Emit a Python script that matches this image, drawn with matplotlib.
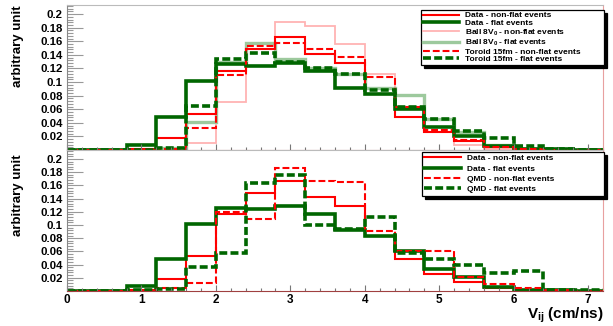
import numpy as np
import matplotlib
matplotlib.use("Agg")
import matplotlib.pyplot as plt
from matplotlib.ticker import MultipleLocator, FormatStrFormatter

plt.rcParams['font.family'] = ['Liberation Sans', 'DejaVu Sans']
plt.rcParams['font.weight'] = 'bold'
plt.rcParams['mathtext.fontset'] = 'custom'
plt.rcParams['mathtext.rm'] = 'Liberation Sans:bold'
plt.rcParams['mathtext.it'] = 'Liberation Sans:bold'
plt.rcParams['mathtext.bf'] = 'Liberation Sans:bold'

# V_ij histograms, 18 bins of 0.4 cm/ns from 0 to 7.2
bin_edges = np.linspace(0.0, 7.2, 19)

data_nonflat = [0, 0, 0.001, 0.018, 0.053, 0.117, 0.148, 0.167, 0.142, 0.128,
                0.083, 0.048, 0.026, 0.013, 0.005, 0.001, 0, 0]
data_flat = [0, 0, 0.008, 0.048, 0.102, 0.126, 0.124, 0.128, 0.116, 0.092,
             0.083, 0.060, 0.034, 0.021, 0.006, 0.002, 0.001, 0]
ball_nonflat = [0, 0, 0, 0.001, 0.010, 0.070, 0.156, 0.189, 0.182, 0.156,
                0.112, 0.061, 0.027, 0.008, 0.002, 0, 0, 0]
ball_flat = [0, 0, 0, 0.003, 0.041, 0.130, 0.157, 0.134, 0.120, 0.112,
             0.091, 0.081, 0.046, 0.027, 0.008, 0.002, 0, 0]
toroid_nonflat = [0, 0, 0, 0.002, 0.033, 0.111, 0.153, 0.158, 0.148, 0.137,
                  0.108, 0.063, 0.029, 0.015, 0.005, 0.001, 0, 0]
toroid_flat = [0, 0, 0, 0.003, 0.065, 0.134, 0.143, 0.130, 0.120, 0.112,
               0.089, 0.064, 0.046, 0.028, 0.017, 0.006, 0.001, 0]
qmd_nonflat = [0, 0, 0, 0.004, 0.012, 0.120, 0.109, 0.186, 0.167, 0.165,
               0.091, 0.061, 0.061, 0.021, 0.011, 0.005, 0.001, 0]
qmd_flat = [0, 0, 0.001, 0.003, 0.036, 0.057, 0.164, 0.176, 0.100, 0.094,
            0.112, 0.057, 0.048, 0.039, 0.027, 0.030, 0.001, 0.001]

RED = '#ff0000'
GREEN = '#006600'
PINK = '#ffb3b3'
LIGHTGREEN = '#9dc99d'
thin_dash = (0, (3.3, 1.4))
thick_dash = (0, (2.2, 0.9))


def style_axes(ax, show_xlabels):
  ax.set_xlim(0, 7.2)
  ax.set_ylim(0, 0.2135)
  ax.xaxis.set_major_locator(MultipleLocator(1))
  ax.xaxis.set_minor_locator(MultipleLocator(0.2))
  ax.yaxis.set_minor_locator(MultipleLocator(0.004))
  ax.yaxis.set_major_formatter(FormatStrFormatter('%g'))
  ax.set_yticks([0.02 * i for i in range(1, 11)])
  ax.tick_params(axis='y', which='major', direction='in', length=11.5,
                 width=0.8, color='#999999', labelsize=8.2, pad=3)
  ax.tick_params(axis='y', which='minor', direction='in', length=4.5,
                 width=0.8, color='#999999')
  ax.tick_params(axis='x', which='major', direction='in', length=4,
                 width=0.8, color='#777777', labelsize=8.5, pad=2,
                 labelbottom=show_xlabels)
  ax.tick_params(axis='x', which='minor', direction='in', length=2,
                 width=0.8, color='#777777')
  for lab in ax.get_xticklabels() + ax.get_yticklabels():
    lab.set_fontweight('bold')
  ax.spines['left'].set_color('#888888')
  ax.spines['bottom'].set_color('#a04040')
  ax.spines['right'].set_color('#e8a0a0')
  ax.spines['top'].set_color('#bbbbbb')
  for s in ax.spines.values():
    s.set_linewidth(0.8)
  ax.set_ylabel('arbitrary unit', fontsize=9.5, fontweight='bold', loc='top')


def make_legend(ax, handles, labels, anchor, spacing, pad):
  leg = ax.legend(handles, labels, loc='upper left', bbox_to_anchor=anchor,
                  mode='expand', borderaxespad=0, fontsize=6.0, handlelength=4.4,
                  handletextpad=0.7, labelspacing=spacing, borderpad=pad,
                  fancybox=False, edgecolor='black', framealpha=1,
                  shadow={'color': 'black', 'alpha': 1})
  leg.get_frame().set_linewidth(0.9)
  for t in leg.get_texts():
    t.set_fontweight('bold')
  return leg


fig = plt.figure(figsize=(6.13, 3.26), dpi=100)
ax1 = fig.add_axes([0.1093, 0.5399, 0.8744, 0.4448])
ax2 = fig.add_axes([0.1093, 0.1074, 0.8744, 0.4325])

# upper pad: data against Ball and Toroid models
ax1.stairs(ball_nonflat, bin_edges, color=PINK, lw=1.3,
           label='Ball 8V$_{\\rm 0}$ - non-flat events')
ax1.stairs(ball_flat, bin_edges, color=LIGHTGREEN, lw=2.4,
           label='Ball 8V$_{\\rm 0}$ - flat events')
ax1.stairs(data_nonflat, bin_edges, color=RED, lw=1.5,
           label='Data - non-flat events')
ax1.stairs(data_flat, bin_edges, color=GREEN, lw=2.6,
           label='Data - flat events')
ax1.stairs(toroid_nonflat, bin_edges, color=RED, lw=1.5, linestyle=thin_dash,
           label='Toroid 15fm - non-flat events')
ax1.stairs(toroid_flat, bin_edges, color=GREEN, lw=2.6, linestyle=thick_dash,
           label='Toroid 15fm - flat events')
style_axes(ax1, False)
ax1.yaxis.set_label_coords(-0.080, 1.0)

h, l = ax1.get_legend_handles_labels()
order = [2, 3, 0, 1, 4, 5]
make_legend(ax1, [h[i] for i in order], [l[i] for i in order],
            (0.6604, 0.3, 0.3414, 0.6655), 0.0, 0.2)

# lower pad: data against QMD
ax2.stairs(data_nonflat, bin_edges, color=RED, lw=1.5,
           label='Data - non-flat events')
ax2.stairs(data_flat, bin_edges, color=GREEN, lw=2.6,
           label='Data - flat events')
ax2.stairs(qmd_nonflat, bin_edges, color=RED, lw=1.5, linestyle=thin_dash,
           label='QMD - non-flat events')
ax2.stairs(qmd_flat, bin_edges, color=GREEN, lw=2.6, linestyle=thick_dash,
           label='QMD - flat events')
style_axes(ax2, True)
ax2.yaxis.set_label_coords(-0.080, 0.97)
ax2.set_xlabel('V$_{\\rm ij}$ (cm/ns)', fontsize=11, fontweight='bold', loc='right')
ax2.xaxis.set_label_coords(1.0, -0.105)

h, l = ax2.get_legend_handles_labels()
make_legend(ax2, h, l, (0.6623, 0.3, 0.3396, 0.686), 0.3, 0.3)

fig.savefig('out.png', dpi=100)
